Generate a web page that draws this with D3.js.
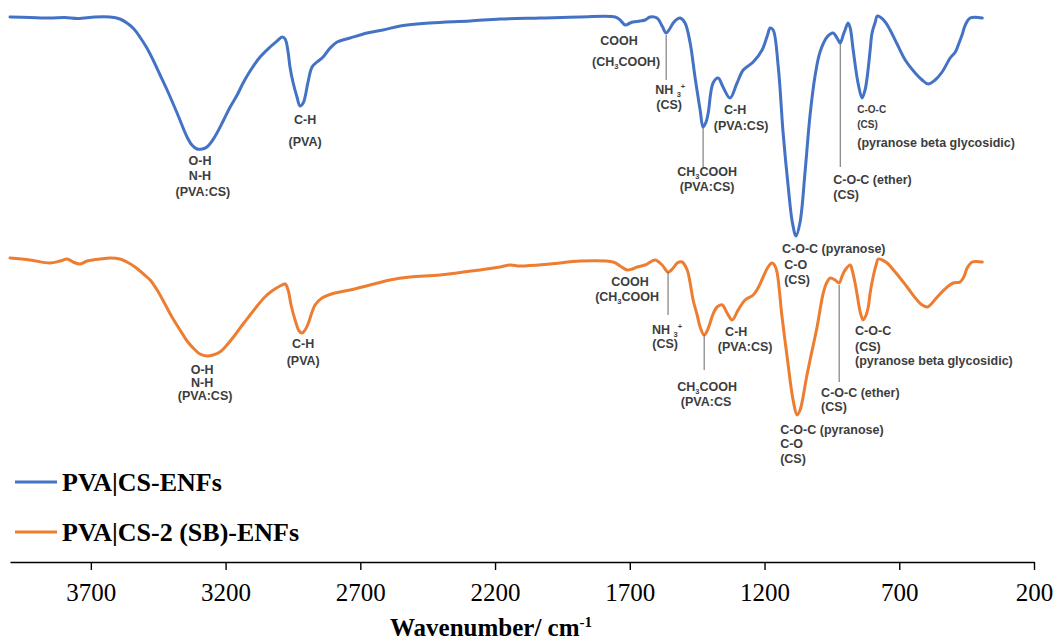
<!DOCTYPE html>
<html>
<head>
<meta charset="utf-8">
<script src="https://cdn.jsdelivr.net/npm/d3@7"></script>
<style>
  html, body { margin: 0; padding: 0; background: #fff; }
  svg { display: block; }
</style>
</head>
<body>
<svg id="chart" width="1057" height="641"></svg>
<script>
// FTIR spectra: wavenumber (cm-1) and transmittance (a.u., stacked with offset)
const pvaCsWn = [4000,3926,3852,3796,3748,3685,3629,3592,3566,3540,3518,3492,3469,3443,3417,3380,3343,3325,3306,3287,3269,3250,3232,3209,3183,3157,3135,3109,3072,3035,3009,2990,2979,2968,2961,2950,2935,2924,2912,2905,2894,2879,2861,2838,2812,2786,2738,2675,2616,2552,2441,2293,2181,2033,1884,1754,1736,1717,1699,1688,1662,1643,1625,1599,1580,1565,1550,1539,1524,1513,1495,1476,1458,1439,1428,1417,1409,1391,1372,1354,1328,1302,1279,1242,1209,1190,1179,1168,1149,1131,1112,1097,1083,1068,1049,1031,1012,994,968,945,931,919,908,901,890,882,871,853,838,827,819,808,801,789,782,771,752,734,708,678,641,615,593,567,541,511,492,481,467,455,437,392];
const pvaCsT = [543,542.5,542,542.5,541.5,543,543,541,537,531,523,512,500,485,470,447,423,415,411,411,413,419,427,439,453,465,477,489,503,513,519,523,521,508,493,478,463,454,457,463,478,493,498,503,512,518,522,527,530,534,537,539,541,542,543,543,540,535,537,538,539,540,543,542,534,527,532,537,541,542,537,517,483,450,433,438,447,477,482,473,462,477,490,498,510,524,532,530,493,427,373,338,324,338,390,445,485,508,523,527,522,517,525,530,537,532,510,477,462,470,483,510,527,538,544,543,538,530,516,500,487,480,476,480,488,502,508,515,525,535,542,542];

const pvaCsSbWn = [4000,3926,3852,3814,3788,3766,3740,3714,3692,3629,3592,3566,3536,3492,3480,3454,3425,3399,3369,3343,3313,3295,3269,3247,3221,3195,3165,3135,3109,3080,3054,3028,2998,2979,2968,2957,2942,2927,2916,2905,2894,2879,2868,2842,2794,2738,2664,2590,2515,2404,2256,2181,2144,2107,1996,1884,1762,1736,1710,1691,1673,1643,1606,1580,1558,1539,1524,1506,1487,1476,1465,1450,1439,1424,1413,1402,1391,1376,1357,1339,1320,1298,1272,1242,1224,1205,1187,1172,1161,1153,1135,1116,1094,1079,1068,1057,1046,1031,1005,982,968,956,938,923,912,901,882,875,864,853,845,834,823,815,808,797,786,778,763,745,715,671,634,615,596,578,559,522,500,474,459,448,429,392];
const pvaCsSbT = [302,300,297,299,301,298,296,299,300,302,301,298,293,283,280,270,256,243,230,219,210,206,204,205,208,215,225,236,245,255,263,269,274,276,270,255,240,229,227,230,236,248,255,262,267,270,275,280,283,285,290,293,295,294,296,299,298,294,290,291,293,295,300,295,288,292,297,298,290,277,260,245,233,225,229,237,246,253,255,247,240,250,260,265,272,283,293,297,294,287,243,203,160,145,150,163,180,200,233,267,278,282,280,277,284,290,295,290,277,260,248,240,245,253,267,283,295,301,300,297,288,273,260,255,253,257,263,273,277,278,284,292,298,298];

const seriesNames = ["PVA|CS-ENFs", "PVA|CS-2 (SB)-ENFs"];
const seriesColors = ["#4472c4", "#ed7d31"];
const tickValues = [3700, 3200, 2700, 2200, 1700, 1200, 700, 200];

// Band assignments: anchor wavenumber, transmittance level, text ("_3" subscript, "^+" superscript)
const pvaCsLabels = [
  {wn: 3295, t: 395, text: "O-H", anchor: "middle"},
  {wn: 3295, t: 380, text: "N-H", anchor: "middle"},
  {wn: 3284, t: 364, text: "(PVA:CS)", anchor: "middle"},
  {wn: 2905, t: 436, text: "C-H", anchor: "middle"},
  {wn: 2905, t: 414, text: "(PVA)", anchor: "middle"},
  {wn: 1740, t: 515, text: "COOH", anchor: "middle"},
  {wn: 1714, t: 494, text: "(CH_3COOH)", anchor: "middle"},
  {wn: 1550, t: 466, text: "NH _3^+", anchor: "middle"},
  {wn: 1554, t: 451, text: "(CS)", anchor: "middle"},
  {wn: 1413, t: 384, text: "CH_3COOH", anchor: "middle"},
  {wn: 1413, t: 369, text: "(PVA:CS)", anchor: "middle"},
  {wn: 1309, t: 446, text: "C-H", anchor: "middle"},
  {wn: 1287, t: 430, text: "(PVA:CS)", anchor: "middle"},
  {wn: 1135, t: 307, text: "C-O-C (pyranose)", anchor: "start"},
  {wn: 1127, t: 291, text: "C-O", anchor: "start"},
  {wn: 1127, t: 276, text: "(CS)", anchor: "start"},
  {wn: 945, t: 376, text: "C-O-C (ether)", anchor: "start"},
  {wn: 945, t: 361, text: "(CS)", anchor: "start"},
  {wn: 856, t: 447, text: "C-O-C", anchor: "start", small: true},
  {wn: 856, t: 432, text: "(CS)", anchor: "start", small: true},
  {wn: 856, t: 413, text: "(pyranose beta glycosidic)", anchor: "start"}
];
const pvaCsSbLabels = [
  {wn: 3287, t: 186, text: "O-H", anchor: "middle"},
  {wn: 3287, t: 173, text: "N-H", anchor: "middle"},
  {wn: 3276, t: 160, text: "(PVA:CS)", anchor: "middle"},
  {wn: 2912, t: 212, text: "C-H", anchor: "middle"},
  {wn: 2912, t: 195, text: "(PVA)", anchor: "middle"},
  {wn: 1699, t: 274, text: "COOH", anchor: "middle"},
  {wn: 1710, t: 259, text: "(CH_3COOH", anchor: "middle"},
  {wn: 1562, t: 226, text: "NH _3^+", anchor: "middle"},
  {wn: 1569, t: 212, text: "(CS)", anchor: "middle"},
  {wn: 1413, t: 169, text: "CH_3COOH", anchor: "middle"},
  {wn: 1417, t: 154, text: "(PVA:CS", anchor: "middle"},
  {wn: 1305, t: 224, text: "C-H", anchor: "middle"},
  {wn: 1272, t: 209, text: "(PVA:CS)", anchor: "middle"},
  {wn: 1142, t: 126, text: "C-O-C (pyranose)", anchor: "start"},
  {wn: 1142, t: 112, text: "C-O", anchor: "start"},
  {wn: 1142, t: 97, text: "(CS)", anchor: "start"},
  {wn: 990, t: 163, text: "C-O-C (ether)", anchor: "start"},
  {wn: 990, t: 149, text: "(CS)", anchor: "start"},
  {wn: 864, t: 225, text: "C-O-C", anchor: "start"},
  {wn: 864, t: 209, text: "(CS)", anchor: "start"},
  {wn: 864, t: 195, text: "(pyranose beta glycosidic)", anchor: "start"}
];
// Leader lines from a band to its label
const pvaCsLeaders = [
  {wn: 1565, t1: 525, t2: 480},
  {wn: 1428, t1: 432, t2: 393},
  {wn: 919, t1: 517, t2: 393}
];
const pvaCsSbLeaders = [
  {wn: 1558, t1: 288, t2: 245},
  {wn: 1424, t1: 225, t2: 190},
  {wn: 923, t1: 275, t2: 178}
];

const svg = d3.select("#chart");
const x = d3.scaleLinear().domain([4000, 200]).range([10, 1034]);
const y = d3.scaleLinear().domain([0, 560]).range([560, 0]);

const line = d3.line()
  .x(d => x(d[0]))
  .y(d => y(d[1]))
  .curve(d3.curveCatmullRom.alpha(0.5));

const spectra = [
  d3.zip(pvaCsWn, pvaCsT),
  d3.zip(pvaCsSbWn, pvaCsSbT)
];

svg.append("g").selectAll("path")
  .data(spectra)
  .join("path")
  .attr("d", line)
  .attr("fill", "none")
  .attr("stroke", (d, i) => seriesColors[i])
  .attr("stroke-width", 3)
  .attr("stroke-linejoin", "round")
  .attr("stroke-linecap", "round");

// leader lines
svg.append("g").selectAll("line")
  .data(pvaCsLeaders.concat(pvaCsSbLeaders))
  .join("line")
  .attr("x1", d => x(d.wn)).attr("x2", d => x(d.wn))
  .attr("y1", d => y(d.t1)).attr("y2", d => y(d.t2))
  .attr("stroke", "#666")
  .attr("stroke-width", 1);

function richText(sel, str) {
  const parts = str.split(/(_[0-9]|\^[+])/).filter(s => s.length);
  let shift = 0;
  parts.forEach(p => {
    let target = 0, content = p, small = false;
    if (p[0] === "_") { target = 3; content = p.slice(1); small = true; }
    else if (p[0] === "^") { target = -5; content = p.slice(1); small = true; }
    const t = sel.append("tspan").attr("dy", target - shift).text(content);
    if (small) t.attr("font-size", "0.6em");
    shift = target;
  });
}

const labelGroup = svg.append("g")
  .attr("font-family", "'Liberation Sans', Arial, sans-serif")
  .attr("font-weight", "bold")
  .attr("fill", "#3d3d3d");

pvaCsLabels.concat(pvaCsSbLabels).forEach(d => {
  const t = labelGroup.append("text")
    .attr("x", x(d.wn))
    .attr("y", y(d.t))
    .attr("text-anchor", d.anchor)
    .attr("font-size", d.small ? 10 : 12.5);
  richText(t, d.text);
});

// legend
const legend = svg.append("g");
const legendRows = legend.selectAll("g")
  .data(seriesNames)
  .join("g")
  .attr("transform", (d, i) => `translate(15, ${482 + i * 50})`);
legendRows.append("line")
  .attr("x1", 0).attr("x2", 42)
  .attr("stroke", (d, i) => seriesColors[i])
  .attr("stroke-width", 3);
legendRows.append("text")
  .attr("x", 47).attr("y", 8.5)
  .attr("font-family", "'Liberation Serif', 'Times New Roman', serif")
  .attr("font-weight", "bold")
  .attr("font-size", 26)
  .attr("fill", "#000")
  .text(d => d);

// x axis
const axis = svg.append("g")
  .attr("transform", "translate(0,562)")
  .call(d3.axisBottom(x).tickValues(tickValues).tickSize(8).tickSizeOuter(0).tickPadding(13).tickFormat(d3.format("d")));
axis.select(".domain").attr("stroke", "#000").attr("stroke-width", 1.4);
axis.selectAll(".tick line").attr("stroke", "#000").attr("stroke-width", 1.4);
axis.selectAll(".tick text")
  .attr("font-family", "'Liberation Serif', 'Times New Roman', serif")
  .attr("font-size", 25)
  .attr("fill", "#000");

const title = svg.append("text")
  .attr("x", 491).attr("y", 636)
  .attr("text-anchor", "middle")
  .attr("font-family", "'Liberation Serif', 'Times New Roman', serif")
  .attr("font-weight", "bold")
  .attr("font-size", 25)
  .attr("fill", "#000");
title.append("tspan").text("Wavenumber/ cm");
title.append("tspan").attr("dy", -9).attr("font-size", 15).text("-1");
</script>
</body>
</html>
